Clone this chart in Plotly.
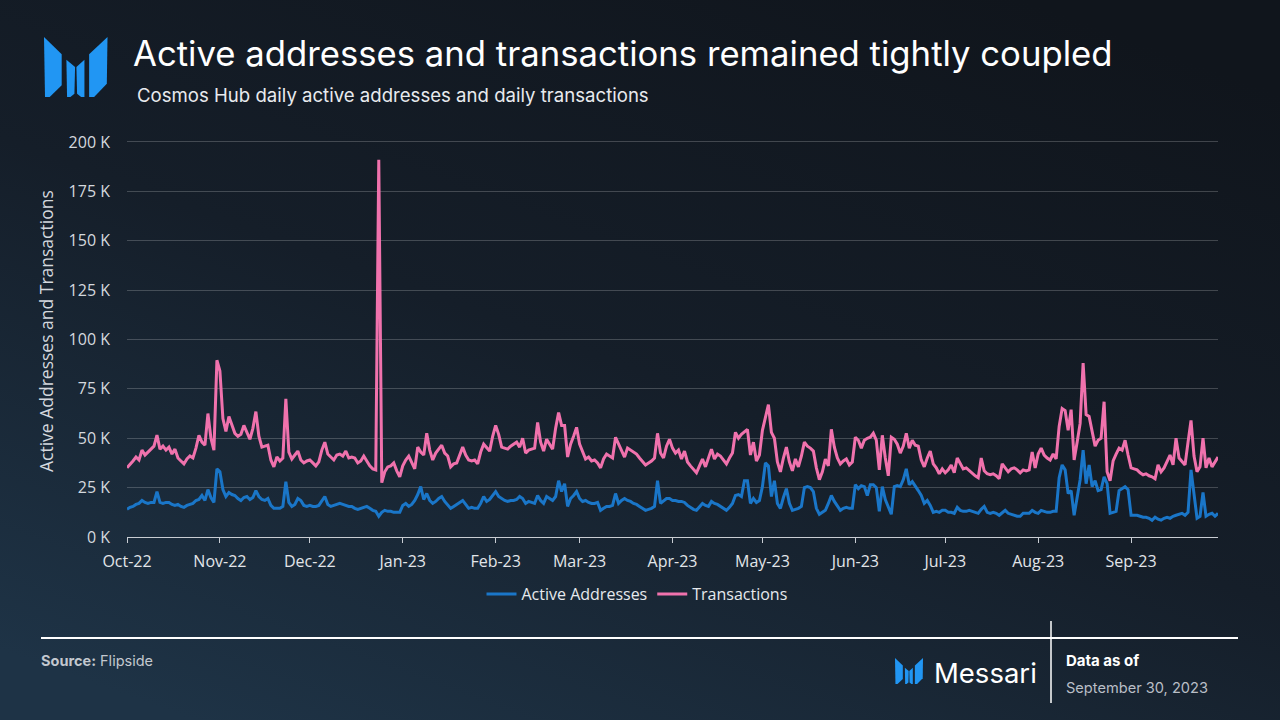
import base64
import pandas as pd
import plotly.graph_objects as go

# ---------------- data (values in thousands) ----------------
start_date = "2022-10-01"

transactions_k = [
    35.0, 36.5, 38.5, 40.5, 39.0, 44.0, 41.5, 43.0, 44.5, 46.0,
    51.6, 44.5, 46.0, 44.0, 45.5, 42.0, 44.5, 40.0, 38.5, 37.0,
    39.5, 41.0, 40.0, 45.0, 51.5, 48.0, 46.5, 62.5, 50.0, 44.0,
    89.5, 84.0, 60.0, 53.5, 61.0, 57.0, 52.5, 51.0, 52.0, 56.5,
    53.0, 49.5, 55.0, 63.5, 51.0, 45.5, 46.0, 46.5, 39.0, 35.5,
    40.5, 38.5, 40.0, 70.0, 43.0, 39.5, 41.5, 43.5, 39.0, 37.5,
    38.5, 39.0, 37.5, 36.0, 38.0, 44.0, 48.0, 42.0, 40.5, 39.0,
    41.5, 42.0, 41.0, 43.5, 40.0, 40.5, 40.0, 37.5, 38.5, 41.0,
    38.5, 36.0, 34.5, 34.0, 191.0, 27.5, 33.0, 35.5, 36.0, 37.5,
    33.5, 30.5, 36.0, 39.0, 41.0, 38.0, 34.5, 45.5, 43.0, 41.5,
    52.5, 44.0, 39.0, 42.5, 44.5, 46.5, 42.5, 41.0, 35.5, 37.0,
    37.5, 42.0, 45.5, 41.5, 39.0, 38.5, 39.0, 37.0, 43.0, 47.0,
    45.0, 43.5, 51.0, 56.5, 52.0, 45.5, 45.0, 44.5, 46.0, 47.0,
    48.0, 45.5, 50.0, 42.5, 44.0, 44.5, 45.0, 58.0, 48.0, 43.5,
    49.5, 47.0, 44.5, 55.0, 63.0, 56.5, 56.5, 40.5, 47.0, 51.0,
    55.5, 47.0, 43.5, 39.5, 40.5, 38.5, 39.0, 37.5, 35.0, 39.5,
    42.0, 41.0, 40.0, 50.5, 47.0, 44.0, 40.5, 45.0, 44.0, 43.0,
    42.0, 40.0, 38.0, 36.5, 37.5, 38.5, 40.0, 52.5, 42.5, 40.0,
    46.0, 49.5, 45.0, 42.5, 44.0, 39.5, 43.5, 38.0, 36.0, 34.0,
    32.5, 36.0, 39.5, 35.5, 40.0, 44.5, 39.5, 42.0, 41.0, 39.0,
    37.0, 40.0, 42.5, 53.0, 50.0, 52.0, 53.5, 54.5, 41.5, 48.0,
    38.5, 41.5, 54.0, 60.0, 67.0, 53.0, 50.0, 38.0, 33.0, 40.0,
    45.5, 38.0, 33.5, 39.5, 35.5, 41.0, 48.0, 46.0, 45.0, 43.5,
    35.0, 29.0, 33.0, 39.5, 36.0, 54.5, 45.5, 40.0, 37.0, 38.5,
    39.5, 36.5, 38.0, 50.5, 49.0, 45.0, 49.0, 50.0, 50.5, 52.5,
    49.0, 34.0, 51.5, 40.0, 31.0, 50.5, 49.5, 47.0, 42.5, 46.0,
    52.5, 45.0, 49.0, 46.5, 46.0, 39.0, 35.5, 40.0, 43.5, 37.0,
    35.0, 32.0, 34.5, 32.5, 34.0, 36.5, 32.5, 40.0, 37.0, 34.5,
    35.0, 33.5, 32.0, 31.0, 30.0, 40.0, 33.5, 32.0, 31.5, 32.0,
    31.0, 29.5, 37.0, 35.0, 33.0, 34.5, 35.0, 34.0, 32.5, 34.0,
    33.5, 34.0, 43.0, 35.0, 42.0, 45.0, 41.5, 40.0, 39.0, 42.0,
    39.5, 56.0, 65.0, 64.0, 54.0, 64.5, 39.0, 48.0, 57.5, 88.0,
    62.0, 61.0, 53.0, 46.0, 49.0, 50.0, 68.5, 33.0, 28.5, 38.5,
    42.0, 45.0, 44.0, 49.0, 41.5, 35.0, 34.5, 34.0, 32.5, 31.5,
    32.0, 31.0, 30.5, 29.5, 36.5, 33.0, 35.0, 38.0, 41.5, 36.5,
    50.0, 40.0, 38.0, 36.5, 48.0, 59.0, 41.0, 33.0, 35.5, 50.0,
    35.0, 40.0, 35.5, 38.0, 40.5,
]

active_addresses_k = [
    14.0, 15.0, 15.5, 16.5, 17.0, 18.5, 17.5, 17.0, 17.5, 17.5,
    23.0, 17.5, 17.0, 17.5, 17.5, 16.5, 16.0, 16.5, 15.5, 15.0,
    16.0, 16.5, 17.0, 18.5, 19.0, 21.0, 18.5, 24.0, 20.0, 17.5,
    34.5, 33.0, 24.0, 20.5, 22.5, 21.5, 21.0, 19.5, 18.5, 20.0,
    20.5, 19.0, 20.0, 23.5, 20.5, 19.0, 18.5, 19.5, 16.0, 14.5,
    14.5, 14.5, 15.5, 28.0, 17.5, 15.5, 16.5, 19.5, 18.5, 16.0,
    15.5, 16.0, 15.5, 15.5, 16.0, 18.5, 20.5, 16.5, 15.5, 16.0,
    16.5, 17.0, 16.5, 16.0, 15.5, 15.5, 14.5, 14.0, 14.5, 15.0,
    15.5, 14.5, 13.5, 13.0, 10.5, 12.5, 13.5, 13.0, 13.0, 12.5,
    12.5, 12.5, 16.0, 17.0, 15.5, 16.5, 18.5, 21.5, 25.5, 19.0,
    22.0, 18.5, 17.0, 18.0, 19.5, 20.5, 18.0, 16.5, 14.5, 15.5,
    16.5, 17.5, 18.5, 16.5, 14.5, 15.0, 14.5, 14.5, 17.0, 20.5,
    18.0, 19.0, 21.0, 23.0, 20.5, 19.5, 18.5, 18.0, 18.5, 18.5,
    19.0, 20.5, 19.5, 17.0, 18.0, 17.5, 17.0, 21.0, 18.5, 17.0,
    20.5, 19.5, 18.5, 20.5, 28.5, 23.0, 27.0, 15.5, 19.5, 21.0,
    23.0, 19.5, 18.0, 18.5, 17.5, 17.0, 17.0, 17.5, 13.5, 14.5,
    15.5, 15.5, 16.0, 22.0, 17.0, 18.5, 19.5, 18.5, 18.0, 17.0,
    16.5, 15.5, 14.5, 13.5, 14.0, 14.5, 15.5, 28.5, 17.0, 18.5,
    19.5, 19.5, 18.5, 18.5, 18.0, 18.0, 17.5, 16.0, 15.0, 14.0,
    13.5, 15.0, 17.0, 16.0, 15.5, 18.0, 17.0, 16.5, 15.5, 14.5,
    13.5, 15.0, 17.0, 21.0, 21.5, 20.5, 28.5, 28.5, 17.0, 19.5,
    17.5, 18.5, 25.5, 37.5, 36.0, 20.5, 28.5, 17.0, 14.5, 20.0,
    24.5, 17.0, 13.5, 14.0, 14.5, 15.5, 25.0, 25.5, 25.0, 23.0,
    14.5, 11.5, 12.5, 13.5, 17.0, 21.0, 18.0, 16.0, 13.5, 14.5,
    15.0, 14.5, 14.5, 26.5, 24.5, 26.0, 25.5, 21.0, 26.5, 26.5,
    25.0, 13.0, 25.5, 19.0, 15.5, 11.5, 25.5, 26.0, 25.5, 29.0,
    34.5, 26.5, 28.0, 26.0, 23.5, 21.0, 17.0, 18.5, 16.0, 12.5,
    13.0, 12.5, 13.5, 13.5, 12.5, 12.5, 12.0, 15.0, 13.5, 13.0,
    13.0, 13.5, 13.0, 12.5, 12.0, 14.0, 15.5, 12.5, 12.0, 12.5,
    12.0, 11.0, 12.5, 13.5, 12.0, 11.5, 11.0, 10.5, 10.5, 12.0,
    12.0, 12.0, 13.5, 12.5, 12.0, 13.5, 13.0, 12.5, 12.5, 13.0,
    13.0, 30.0, 36.5, 34.0, 22.0, 23.5, 11.0, 20.0, 29.0, 44.0,
    27.0, 36.5, 25.5, 28.5, 23.5, 24.0, 30.5, 27.0, 12.0, 12.5,
    13.0, 23.5, 24.5, 25.5, 24.0, 11.0, 11.0, 11.0, 10.5, 10.0,
    10.0, 9.5, 8.5, 10.0, 9.0, 8.5, 9.5, 10.0, 9.5, 10.5,
    11.0, 11.5, 12.0, 11.0, 12.5, 34.0, 22.0, 9.5, 10.5, 22.5,
    10.5, 11.5, 12.0, 10.5, 12.0,
]

month_ticks = ["2022-10-01", "2022-11-01", "2022-12-01", "2023-01-01",
               "2023-02-01", "2023-03-01", "2023-04-01", "2023-05-01",
               "2023-06-01", "2023-07-01", "2023-08-01", "2023-09-01"]
month_labels = ["Oct-22", "Nov-22", "Dec-22", "Jan-23", "Feb-23", "Mar-23",
                "Apr-23", "May-23", "Jun-23", "Jul-23", "Aug-23", "Sep-23"]

y_ticks = [0, 25, 50, 75, 100, 125, 150, 175, 200]
y_labels = ["0 K", "25 K", "50 K", "75 K", "100 K", "125 K", "150 K", "175 K", "200 K"]

series_names = ["Active Addresses", "Transactions"]
series_colors = ["#1a76c8", "#f072ad"]

dates = pd.date_range(start_date, periods=len(transactions_k), freq="D")

# ---------------- geometry helpers ----------------
W, H = 1280, 720
L, R, T, B = 127, 62, 140, 183
PW = W - L - R
PH = H - T - B


def fx(px):
    return (px - L) / PW


def fy(py):
    return (H - B - py) / PH


fig = go.Figure()
fig.add_trace(go.Scatter(x=dates, y=active_addresses_k, mode="lines",
                         name=series_names[0],
                         line=dict(color=series_colors[0], width=3)))
fig.add_trace(go.Scatter(x=dates, y=transactions_k, mode="lines",
                         name=series_names[1],
                         line=dict(color=series_colors[1], width=3)))

# background gradient
svg = ('<svg xmlns="http://www.w3.org/2000/svg" width="1280" height="720">'
       '<defs><linearGradient id="g" x1="0.8" y1="0" x2="0.15" y2="1">'
       '<stop offset="0" stop-color="#10151c"/>'
       '<stop offset="0.5" stop-color="#151e29"/>'
       '<stop offset="1" stop-color="#1e3346"/>'
       '</linearGradient></defs>'
       '<rect width="1280" height="720" fill="url(#g)"/></svg>')
bg_src = "data:image/svg+xml;base64," + base64.b64encode(svg.encode()).decode()

# logo pieces in a 0..1 box
logo_pieces = [
    [(25, 20), (78, 72), (78, 165), (42, 200), (28, 200)],
    [(92, 88), (118, 110), (116, 190), (104, 200), (94, 200)],
    [(122, 110), (146, 88), (146, 200), (136, 200), (124, 190)],
    [(215, 20), (160, 72), (160, 200), (175, 200), (213, 160)],
]


def logo_shapes(x0, y0, w, h, color):
    out = []
    for piece in logo_pieces:
        pts = []
        for zx, zy in piece:
            u = (zx - 25) / 190.0
            v = (zy - 20) / 180.0
            pts.append((fx(x0 + u * w), fy(y0 + v * h)))
        path = "M " + " L ".join(f"{a:.5f},{b:.5f}" for a, b in pts) + " Z"
        out.append(dict(type="path", path=path, xref="paper", yref="paper",
                        fillcolor=color, line=dict(width=0), layer="above"))
    return out


shapes = []
shapes += logo_shapes(44, 37, 63.5, 60, "#2196f3")
shapes += logo_shapes(895, 658, 28, 26, "#2196f3")
shapes.append(dict(type="line", xref="paper", yref="paper",
                   x0=fx(41), x1=fx(1238), y0=fy(638), y1=fy(638),
                   line=dict(color="#ffffff", width=2)))
shapes.append(dict(type="line", xref="paper", yref="paper",
                   x0=fx(1051), x1=fx(1051), y0=fy(621), y1=fy(703),
                   line=dict(color="#ffffff", width=1.5)))

TITLE_FONT = "Inter, Roboto, sans-serif"
AXIS_FONT = "Open Sans, sans-serif"

annotations = [
    dict(text="Active addresses and transactions remained tightly coupled",
         x=fx(131), y=fy(53), xanchor="left", yanchor="middle",
         font=dict(family=TITLE_FONT, size=34.7, color="#ffffff")),
    dict(text="Cosmos Hub daily active addresses and daily transactions",
         x=fx(135), y=fy(95), xanchor="left", yanchor="middle",
         font=dict(family=TITLE_FONT, size=18.6, color="#e8eaee")),
    dict(text="Active Addresses and Transactions", textangle=-90,
         x=fx(46), y=fy(331), xanchor="center", yanchor="middle",
         font=dict(family=AXIS_FONT, size=17.5, color="#d4d8de")),
    dict(text="<b>Source:</b> Flipside",
         x=fx(39), y=fy(660), xanchor="left", yanchor="middle",
         font=dict(family=TITLE_FONT, size=14.5, color="#c3c8cf")),
    dict(text="Messari",
         x=fx(932), y=fy(673), xanchor="left", yanchor="middle",
         font=dict(family=TITLE_FONT, size=27.5, color="#ffffff")),
    dict(text="<b>Data as of</b>",
         x=fx(1064), y=fy(660), xanchor="left", yanchor="middle",
         font=dict(family=TITLE_FONT, size=15, color="#ffffff")),
    dict(text="September 30, 2023",
         x=fx(1064), y=fy(688), xanchor="left", yanchor="middle",
         font=dict(family=TITLE_FONT, size=14.6, color="#b9bec6")),
]
for a in annotations:
    a.update(xref="paper", yref="paper", showarrow=False)

fig.update_layout(
    width=W, height=H,
    margin=dict(l=L, r=R, t=T, b=B, pad=0),
    paper_bgcolor="#151d27",
    plot_bgcolor="rgba(0,0,0,0)",
    images=[dict(source=bg_src, xref="paper", yref="paper",
                 x=-L / PW, y=1 + T / PH, sizex=W / PW, sizey=H / PH,
                 xanchor="left", yanchor="top", sizing="stretch",
                 layer="below", opacity=1)],
    shapes=shapes,
    annotations=annotations,
    showlegend=True,
    legend=dict(orientation="h", x=fx(637), xanchor="center",
                y=fy(594), yanchor="middle",
                font=dict(family=AXIS_FONT, size=16, color="#e6e9ed"),
                bgcolor="rgba(0,0,0,0)", itemwidth=30),
    xaxis=dict(type="date", range=["2022-10-01", "2023-09-30"],
               tickmode="array", tickvals=month_ticks, ticktext=month_labels,
               ticks="outside", ticklen=5, tickcolor="#c9cdd3",
               showline=True, linecolor="#c9cdd3", linewidth=1,
               showgrid=False, zeroline=False, ticklabelstandoff=5,
               tickfont=dict(family=AXIS_FONT, size=16, color="#e2e5e9")),
    yaxis=dict(range=[0, 201], tickmode="array", tickvals=y_ticks,
               ticktext=y_labels, showgrid=True,
               gridcolor="rgba(255,255,255,0.2)", gridwidth=1,
               zeroline=False, showline=False, ticks="",
               ticklabelstandoff=16,
               tickfont=dict(family=AXIS_FONT, size=16, color="#d4d8de")),
    hovermode="x unified",
)

fig.write_html(
    "out.html",
    config={"displayModeBar": False},
    post_script="document.body.style.margin='0';document.body.style.padding='0';"
                "document.body.style.overflow='hidden';",
)
